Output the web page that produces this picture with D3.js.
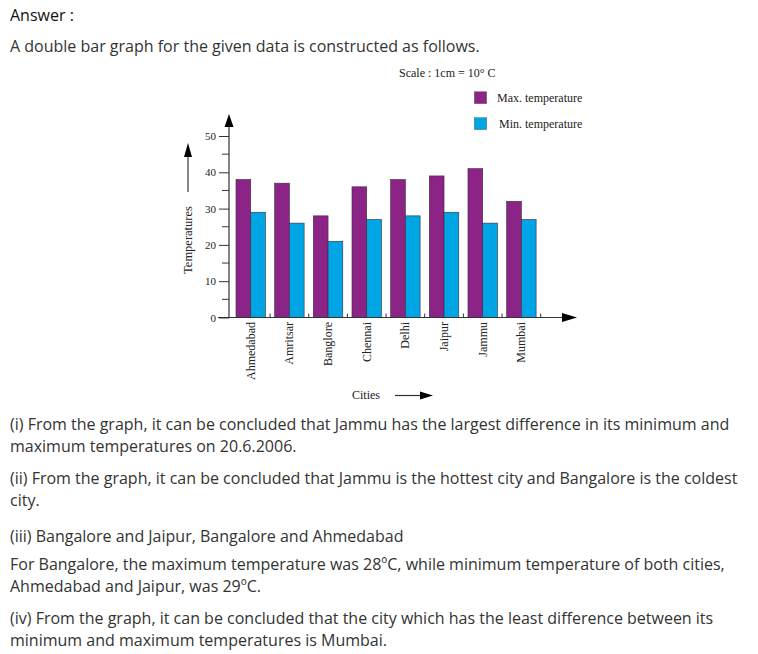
<!DOCTYPE html>
<html>
<head>
<meta charset="utf-8">
<script src="https://cdn.jsdelivr.net/npm/d3@7"></script>
<style>
  body { margin: 0; background: #fff; }
  #page { position: relative; width: 758px; height: 654px; overflow: hidden;
          font-family: "Open Sans", sans-serif; font-size: 16px; color: #333; }
  .line { position: absolute; left: 10px; line-height: 22px; white-space: nowrap; }
  #chart { position: absolute; left: 0; top: 0; }
  #chart text { font-family: "Liberation Serif", "Times New Roman", serif; fill: #222; }
</style>
</head>
<body>
<div id="page">
  <svg id="chart" width="758" height="654"></svg>
</div>
<script>
const cities = ['Ahmedabad', 'Amritsar', 'Banglore', 'Chennai', 'Delhi', 'Jaipur', 'Jammu', 'Mumbai'];
const maxTemps = [38, 37, 28, 36, 38, 39, 41, 32];
const minTemps = [29, 26, 21, 27, 28, 29, 26, 27];
const seriesNames = ['Max. temperature', 'Min. temperature'];
const yTicks = [0, 10, 20, 30, 40, 50];
const yMinorTicks = [5, 15, 25, 35, 45];

const textLines = [
  { top: 4, text: 'Answer :', color: '#111' },
  { top: 35, text: 'A double bar graph for the given data is constructed as follows.' },
  { top: 413, text: '(i) From the graph, it can be concluded that Jammu has the largest difference in its minimum and' },
  { top: 435, text: 'maximum temperatures on 20.6.2006.' },
  { top: 467, text: '(ii) From the graph, it can be concluded that Jammu is the hottest city and Bangalore is the coldest' },
  { top: 489, text: 'city.' },
  { top: 525, text: '(iii) Bangalore and Jaipur, Bangalore and Ahmedabad' },
  { top: 553, text: 'For Bangalore, the maximum temperature was 28\u00baC, while minimum temperature of both cities,' },
  { top: 575, text: 'Ahmedabad and Jaipur, was 29\u00baC.' },
  { top: 607, text: '(iv) From the graph, it can be concluded that the city which has the least difference between its' },
  { top: 629, text: 'minimum and maximum temperatures is Mumbai.' }
];

d3.select('#page').selectAll('div.line')
  .data(textLines)
  .enter()
  .append('div')
  .attr('class', 'line')
  .style('top', function(d) { return d.top + 'px'; })
  .style('color', function(d) { return d.color || null; })
  .text(function(d) { return d.text; });

const svg = d3.select('#chart');
const axisColor = '#333';
const colors = ['#8c2488', '#00a5e5'];

const y = d3.scaleLinear().domain([0, 50]).range([317.5, 136]);
const x0 = d3.scaleBand().domain(cities).range([231.4, 540.7]).padding(0);
const x1 = d3.scaleBand().domain(['max', 'min']).range([4.6, x0.bandwidth() - 4.6]);

const rows = cities.map(function(c, i) {
  return { city: c, values: [{ key: 'max', v: maxTemps[i] }, { key: 'min', v: minTemps[i] }] };
});

// bars
const groups = svg.selectAll('g.city')
  .data(rows)
  .enter()
  .append('g')
  .attr('class', 'city')
  .attr('transform', function(d) { return 'translate(' + x0(d.city) + ',0)'; });
groups.selectAll('rect')
  .data(function(d) { return d.values; })
  .enter()
  .append('rect')
  .attr('x', function(d) { return x1(d.key); })
  .attr('width', x1.bandwidth())
  .attr('y', function(d) { return y(d.v); })
  .attr('height', function(d) { return y(0) - y(d.v); })
  .attr('fill', function(d, i) { return colors[i]; })
  .attr('stroke', '#3a2a3a')
  .attr('stroke-width', 0.6);

// y axis
const yAxis = d3.axisLeft(y).tickValues(yTicks).tickSize(10).tickPadding(3).tickFormat(d3.format('d'));
const yg = svg.append('g').attr('transform', 'translate(229,0)').call(yAxis);
yg.select('.domain').remove();
yg.selectAll('line').attr('stroke', axisColor);
yg.selectAll('text').attr('font-size', 11).attr('fill', '#222')
  .attr('font-family', '"Liberation Serif", serif');
yg.selectAll('line.minor')
  .data(yMinorTicks)
  .enter()
  .append('line')
  .attr('class', 'minor')
  .attr('x1', -7).attr('x2', 0)
  .attr('y1', function(d) { return y(d); })
  .attr('y2', function(d) { return y(d); })
  .attr('stroke', axisColor);

svg.append('line')
  .attr('x1', 229).attr('x2', 229)
  .attr('y1', y(0)).attr('y2', 120)
  .attr('stroke', axisColor).attr('stroke-width', 1.2);
svg.append('path')
  .attr('d', 'M 229 114 L 233.5 127 L 224.5 127 Z')
  .attr('fill', '#000');

// x axis
svg.append('line')
  .attr('x1', 218).attr('x2', 566)
  .attr('y1', y(0)).attr('y2', y(0))
  .attr('stroke', axisColor).attr('stroke-width', 1.2);
svg.append('path')
  .attr('d', 'M 577 ' + y(0) + ' L 562 ' + (y(0) - 4.5) + ' L 562 ' + (y(0) + 4.5) + ' Z')
  .attr('fill', '#000');
svg.selectAll('line.xtick')
  .data(cities)
  .enter()
  .append('line')
  .attr('class', 'xtick')
  .attr('x1', function(d) { return x0(d) + x0.bandwidth(); })
  .attr('x2', function(d) { return x0(d) + x0.bandwidth(); })
  .attr('y1', y(0) - 4).attr('y2', y(0))
  .attr('stroke', axisColor);

// category labels
svg.selectAll('text.cat')
  .data(cities)
  .enter()
  .append('text')
  .attr('class', 'cat')
  .attr('text-anchor', 'end')
  .attr('font-size', 12)
  .attr('transform', function(d) {
    return 'translate(' + (x0(d) + x0.bandwidth() / 2 + 4) + ',322) rotate(-90)';
  })
  .text(function(d) { return d; });

// axis titles
svg.append('text')
  .attr('x', 352).attr('y', 399)
  .attr('font-size', 12)
  .text('Cities');
svg.append('line')
  .attr('x1', 395).attr('x2', 422).attr('y1', 395.5).attr('y2', 395.5)
  .attr('stroke', axisColor).attr('stroke-width', 1.2);
svg.append('path')
  .attr('d', 'M 433 395.5 L 420 391.5 L 420 399.5 Z')
  .attr('fill', '#000');

svg.append('text')
  .attr('text-anchor', 'middle')
  .attr('font-size', 12.5)
  .attr('transform', 'translate(192,240) rotate(-90)')
  .text('Temperatures');
svg.append('line')
  .attr('x1', 188).attr('x2', 188).attr('y1', 192).attr('y2', 154)
  .attr('stroke', '#555').attr('stroke-width', 1.4);
svg.append('path')
  .attr('d', 'M 188 143 L 192 157 L 184 157 Z')
  .attr('fill', '#000');

// scale note + legend
svg.append('text')
  .attr('x', 399).attr('y', 77)
  .attr('font-size', 12)
  .text('Scale : 1cm = 10\u00b0 C');

const legend = svg.selectAll('g.legend')
  .data(seriesNames)
  .enter()
  .append('g')
  .attr('class', 'legend')
  .attr('transform', function(d, i) { return 'translate(474.3,' + (91.7 + i * 26) + ')'; });
legend.append('rect')
  .attr('width', 12.4).attr('height', 12)
  .attr('fill', function(d, i) { return colors[i]; })
  .attr('stroke', '#555').attr('stroke-width', 0.4);
legend.append('text')
  .attr('x', function(d, i) { return i === 0 ? 22.7 : 24.7; })
  .attr('y', 10.5)
  .attr('font-size', 12)
  .text(function(d) { return d; });
</script>
</body>
</html>
